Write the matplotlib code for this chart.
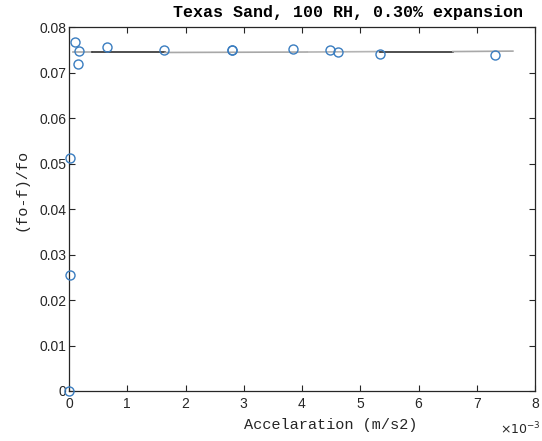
import matplotlib
matplotlib.use("Agg")
import matplotlib.pyplot as plt

# measured points (acceleration in 1e-3 m/s2, (fo-f)/fo)
accel = [0.0, 0.01, 0.01, 0.10, 0.17, 0.15, 0.65, 1.63, 2.79, 2.80, 3.85, 4.48, 4.62, 5.34, 7.31]
ratio = [0.0, 0.0255, 0.0511, 0.0767, 0.0747, 0.0719, 0.0755, 0.0749, 0.0749, 0.0750,
         0.0752, 0.0749, 0.0745, 0.0741, 0.0738]

# fitted line, drawn piecewise (alternating grey / black in the original)
fit_x = [0.07, 0.40, 1.65, 4.09, 5.34, 6.59, 7.62]
fit_y = [0.0744, 0.0744, 0.0744, 0.0745, 0.0746, 0.0746, 0.0747]
fit_col = ['#a8a8a8', '#303030', '#a8a8a8', '#b4b4b4', '#303030', '#a8a8a8']

xticks = [0, 1, 2, 3, 4, 5, 6, 7, 8]
yticks = [0, 0.01, 0.02, 0.03, 0.04, 0.05, 0.06, 0.07, 0.08]
ytick_labels = ['0', '0.01', '0.02', '0.03', '0.04', '0.05', '0.06', '0.07', '0.08']

fig = plt.figure(figsize=(5.42, 4.41), dpi=100)
ax = fig.add_axes([69/542, 50/441, 466/542, 364/441])

for i in range(len(fit_col)):
    ax.plot(fit_x[i:i+2], fit_y[i:i+2], color=fit_col[i], lw=1.2, zorder=2)

ax.plot(accel, ratio, 'o', mfc='none', mec='#3a7dc0', ms=6.5, mew=1.0, zorder=3, clip_on=False)

ax.set_xlim(0, 8)
ax.set_ylim(0, 0.08)
ax.set_xticks(xticks)
ax.set_yticks(yticks)
ax.set_yticklabels(ytick_labels)
ax.tick_params(direction='in', top=True, right=True, length=4, width=0.8,
               colors='#262626', labelsize=10)
ax.tick_params(axis='x', pad=4)
ax.tick_params(axis='y', pad=2)
for lab in ax.get_xticklabels() + ax.get_yticklabels():
    lab.set_family('Liberation Sans')
for s in ax.spines.values():
    s.set_color('#262626')
    s.set_linewidth(0.9)

fig.text(173/542, 1 - 12/441, 'Texas Sand, 100 RH, 0.30% expansion',
         family='Liberation Mono', weight='bold', fontsize=12, va='center', ha='left')
fig.text(331/542, 1 - 425/441, 'Accelaration (m/s2)', family='Liberation Mono',
         fontsize=11, ha='center', va='center', color='#262626')
fig.text(22/542, 1 - 190/441, '(fo-f)/fo', family='Liberation Mono',
         fontsize=11, ha='center', va='center', rotation=90, color='#262626')
fig.text(500/542, 1 - 429/441, r'$\times10^{-3}$', fontsize=9, ha='left', va='center',
         color='#262626', family='Liberation Sans')

fig.savefig('out.png', dpi=100)
